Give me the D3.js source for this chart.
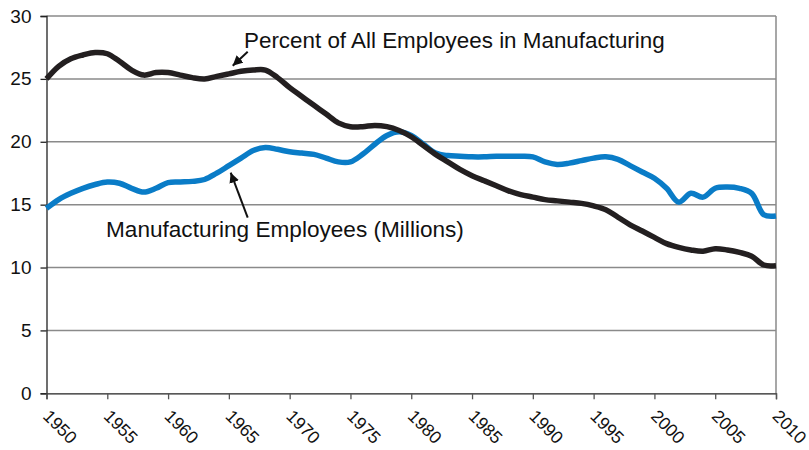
<!DOCTYPE html>
<html><head><meta charset="utf-8">
<script src="https://cdn.jsdelivr.net/npm/d3@7"></script>
<style>
html,body{margin:0;padding:0;background:#fff;}
svg{display:block;font-family:"Liberation Sans",Arial,sans-serif;}
</style></head>
<body>
<svg id="chart" width="809" height="450"></svg>
<script>
const years = d3.range(1950, 2011);
const percentManufacturing = [
 25.0, 26.0, 26.6, 26.9, 27.1, 27.0, 26.4, 25.7, 25.3, 25.5,
 25.5, 25.3, 25.1, 25.0, 25.2, 25.4, 25.6, 25.7, 25.7, 25.1,
 24.3, 23.6, 22.9, 22.2, 21.5, 21.2, 21.2, 21.3, 21.2, 20.9,
 20.4, 19.7, 19.0, 18.4, 17.8, 17.3, 16.9, 16.5, 16.1, 15.8,
 15.6, 15.4, 15.3, 15.2, 15.1, 14.9, 14.6, 14.0, 13.4, 12.9,
 12.4, 11.9, 11.6, 11.4, 11.3, 11.5, 11.4, 11.2, 10.9, 10.2,
 10.15
];
const manufacturingMillions = [
 14.7, 15.4, 15.9, 16.3, 16.6, 16.8, 16.7, 16.3, 16.0, 16.3,
 16.75, 16.8, 16.85, 17.0, 17.5, 18.1, 18.7, 19.3, 19.55, 19.4,
 19.2, 19.1, 19.0, 18.7, 18.4, 18.4, 19.0, 19.8, 20.5, 20.8,
 20.5, 19.8, 19.1, 18.9, 18.85, 18.8, 18.8, 18.85, 18.85, 18.85,
 18.8, 18.4, 18.2, 18.3, 18.5, 18.7, 18.8, 18.6, 18.1, 17.6,
 17.1, 16.3, 15.2, 15.9, 15.6, 16.3, 16.4, 16.3, 15.9, 14.2,
 14.1
];
const xTicks = [1950,1955,1960,1965,1970,1975,1980,1985,1990,1995,2000,2005,2010];
const yTicks = [0,5,10,15,20,25,30];
const labelPercent = "Percent of All Employees in Manufacturing";
const labelEmployees = "Manufacturing Employees (Millions)";

const svg = d3.select("#chart");
const x = d3.scaleLinear().domain([1950, 2010]).range([46.5, 776]);
const y = d3.scaleLinear().domain([0, 30]).range([393.3, 16]);

// gridlines
svg.append("g").selectAll("line").data(yTicks.filter(d => d > 0)).join("line")
  .attr("x1", x(1950)).attr("x2", x(2010))
  .attr("y1", d => y(d)).attr("y2", d => y(d))
  .attr("stroke", "#8a8a8a").attr("stroke-width", 1.5);
// right border
svg.append("line").attr("x1", x(2010)).attr("x2", x(2010))
  .attr("y1", y(30)).attr("y2", y(0)).attr("stroke", "#8a8a8a").attr("stroke-width", 1.5);

// y axis
const yAxis = svg.append("g").attr("transform", `translate(${x(1950)},0)`)
  .call(d3.axisLeft(y).tickValues(yTicks).tickSize(6).tickPadding(9).tickFormat(d3.format("d")));
yAxis.select(".domain").attr("stroke", "#222").attr("stroke-width", 1.3);
yAxis.selectAll(".tick line").attr("stroke", "#222").attr("stroke-width", 1.3);
yAxis.selectAll("text").attr("font-size", 19).attr("fill", "#111")
  .attr("font-family", "Liberation Sans, Arial, sans-serif");

// x axis
const xAxis = svg.append("g").attr("transform", `translate(0,${y(0)})`)
  .call(d3.axisBottom(x).tickValues(xTicks).tickSize(6).tickFormat(d3.format("d")));
xAxis.select(".domain").attr("stroke", "#222").attr("stroke-width", 1.3);
xAxis.selectAll(".tick line").attr("stroke", "#555").attr("stroke-width", 1.3);
xAxis.selectAll("text").attr("font-size", 17.5).attr("fill", "#111")
  .attr("font-family", "Liberation Sans, Arial, sans-serif")
  .attr("text-anchor", "start").attr("dy", null)
  .attr("x", 0).attr("y", 0)
  .attr("transform", "translate(-5,24) rotate(45)");

// lines
const line = d3.line().curve(d3.curveCatmullRom.alpha(0.5));
svg.append("path")
  .attr("d", line(years.map((yr, i) => [x(yr), y(manufacturingMillions[i])])))
  .attr("fill", "none").attr("stroke", "#0a7cc7").attr("stroke-width", 5.5)
  .attr("stroke-linejoin", "round");
svg.append("path")
  .attr("d", line(years.map((yr, i) => [x(yr), y(percentManufacturing[i])])))
  .attr("fill", "none").attr("stroke", "#231f20").attr("stroke-width", 5.5)
  .attr("stroke-linejoin", "round");

// annotations
svg.append("defs").append("marker").attr("id", "ah")
  .attr("viewBox", "0 0 10 10").attr("refX", 10).attr("refY", 5)
  .attr("markerWidth", 5).attr("markerHeight", 5).attr("orient", "auto")
  .attr("markerUnits", "strokeWidth")
  .append("path").attr("d", "M0,0 L10,5 L0,10 Z").attr("fill", "#111");

svg.append("line").attr("x1", 247.7).attr("y1", 51.7).attr("x2", 232.7).attr("y2", 65.7)
  .attr("stroke", "#111").attr("stroke-width", 2).attr("marker-end", "url(#ah)");
svg.append("line").attr("x1", 247.7).attr("y1", 217.7).attr("x2", 230.7).attr("y2", 172.7)
  .attr("stroke", "#111").attr("stroke-width", 2).attr("marker-end", "url(#ah)");

svg.append("text").attr("x", 244).attr("y", 48).attr("font-size", 22.4).attr("fill", "#111")
  .text(labelPercent);
svg.append("text").attr("x", 106).attr("y", 237).attr("font-size", 22.6).attr("fill", "#111")
  .text(labelEmployees);
</script>
</body></html>
